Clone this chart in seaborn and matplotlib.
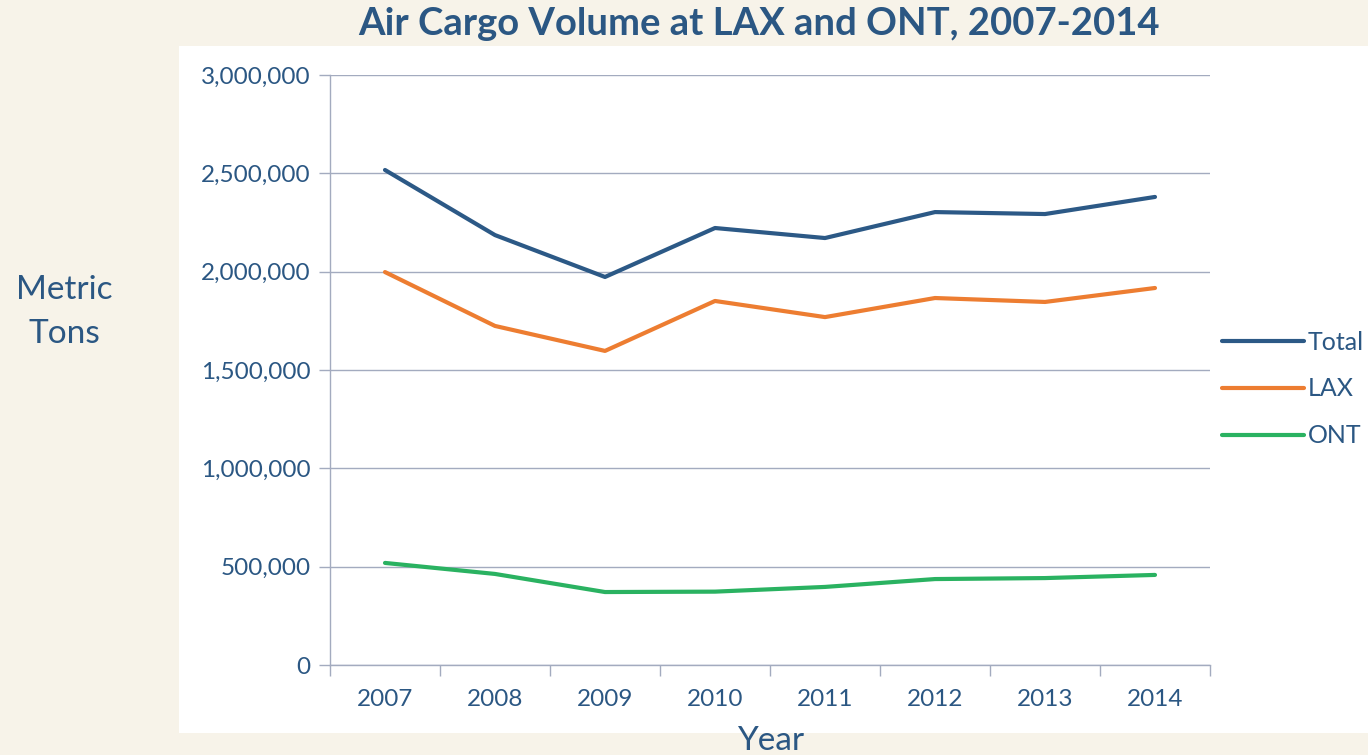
import pandas as pd
import matplotlib.pyplot as plt
import seaborn as sns
from matplotlib.patches import Rectangle
from matplotlib.ticker import FuncFormatter, FixedLocator

# Air cargo volume (metric tons)
years = ['2007', '2008', '2009', '2010', '2011', '2012', '2013', '2014']
total = [2517000, 2186000, 1973000, 2222000, 2171000, 2303000, 2293000, 2380000]
lax = [1998000, 1724000, 1597000, 1851000, 1769000, 1866000, 1846000, 1917000]
ont = [519000, 463000, 371000, 373000, 397000, 437000, 442000, 458000]
series_names = ['Total', 'LAX', 'ONT']

df = pd.DataFrame({'Year': years * 3,
                   'Tons': total + lax + ont,
                   'Series': [s for s in series_names for _ in years]})
df['pos'] = df['Year'].map({y: i for i, y in enumerate(years)})

text_col = '#2B5783'
grid_col = '#A3ABBF'
palette = {'Total': '#2C5986', 'LAX': '#ED7D31', 'ONT': '#2AB261'}

sns.set_style('white')
plt.rcParams['font.family'] = ['Lato', 'DejaVu Sans']

fig = plt.figure(figsize=(13.68, 7.55), dpi=100)
fig.patch.set_facecolor('#F7F3E9')
fig.patches.append(Rectangle((179 / 1368, 1 - 733 / 755), 1 - 179 / 1368, (733 - 46) / 755,
                             transform=fig.transFigure, facecolor='white',
                             edgecolor='none', zorder=-5))

ax = fig.add_axes([330 / 1368, 1 - 665 / 755, 880 / 1368, 590 / 755])
ax.set_zorder(2)
ax.set_facecolor('white')
sns.lineplot(data=df, x='pos', y='Tons', hue='Series', palette=palette,
             hue_order=series_names, linewidth=3, ax=ax)

ax.set_xlim(-0.5, len(years) - 0.5)
ax.set_ylim(0, 3000000)
ax.set_yticks(range(0, 3000001, 500000))
ax.yaxis.set_major_formatter(FuncFormatter(lambda v, p: f'{int(v):,}'))
ax.grid(axis='y', color=grid_col, linewidth=1)
ax.set_axisbelow(True)

# category labels centred, tick marks on the boundaries
ax.set_xticks(range(len(years)))
ax.set_xticklabels(years)
ax.xaxis.set_minor_locator(FixedLocator([i - 0.5 for i in range(len(years) + 1)]))
ax.tick_params(axis='x', which='major', bottom=True, length=0, pad=17,
               labelsize=17.5, labelcolor=text_col)
ax.tick_params(axis='x', which='minor', bottom=True, length=8, width=1, color=grid_col)
ax.tick_params(axis='y', left=True, length=8, width=1, color=grid_col, pad=6,
               labelsize=17.5, labelcolor=text_col)

for side in ['top', 'right']:
    ax.spines[side].set_visible(False)
for side in ['left', 'bottom']:
    ax.spines[side].set_color(grid_col)
    ax.spines[side].set_linewidth(1)

ax.set_xlabel('')
ax.set_ylabel('')
fig.text(771 / 1368, 1 - 741 / 755, 'Year', ha='center', va='center',
         fontsize=24, color=text_col)
fig.text(64 / 1368, 1 - 312 / 755, 'Metric\nTons', ha='center', va='center',
         fontsize=24, color=text_col, linespacing=1.62)
fig.text(759 / 1368, 1 - 24 / 755, 'Air Cargo Volume at LAX and ONT, 2007-2014',
         ha='center', va='center', fontsize=27.5, fontweight='bold', color=text_col)

leg = ax.legend(loc='center left', bbox_to_anchor=(1199 / 1368, 1 - 389 / 755),
                bbox_transform=fig.transFigure, frameon=False,
                handlelength=3.3, handletextpad=0.15, labelspacing=0.95, fontsize=18)
for t in leg.get_texts():
    t.set_color(text_col)
for line in leg.get_lines():
    line.set_linewidth(3)

fig.savefig('out.png', dpi=100, facecolor=fig.get_facecolor())
